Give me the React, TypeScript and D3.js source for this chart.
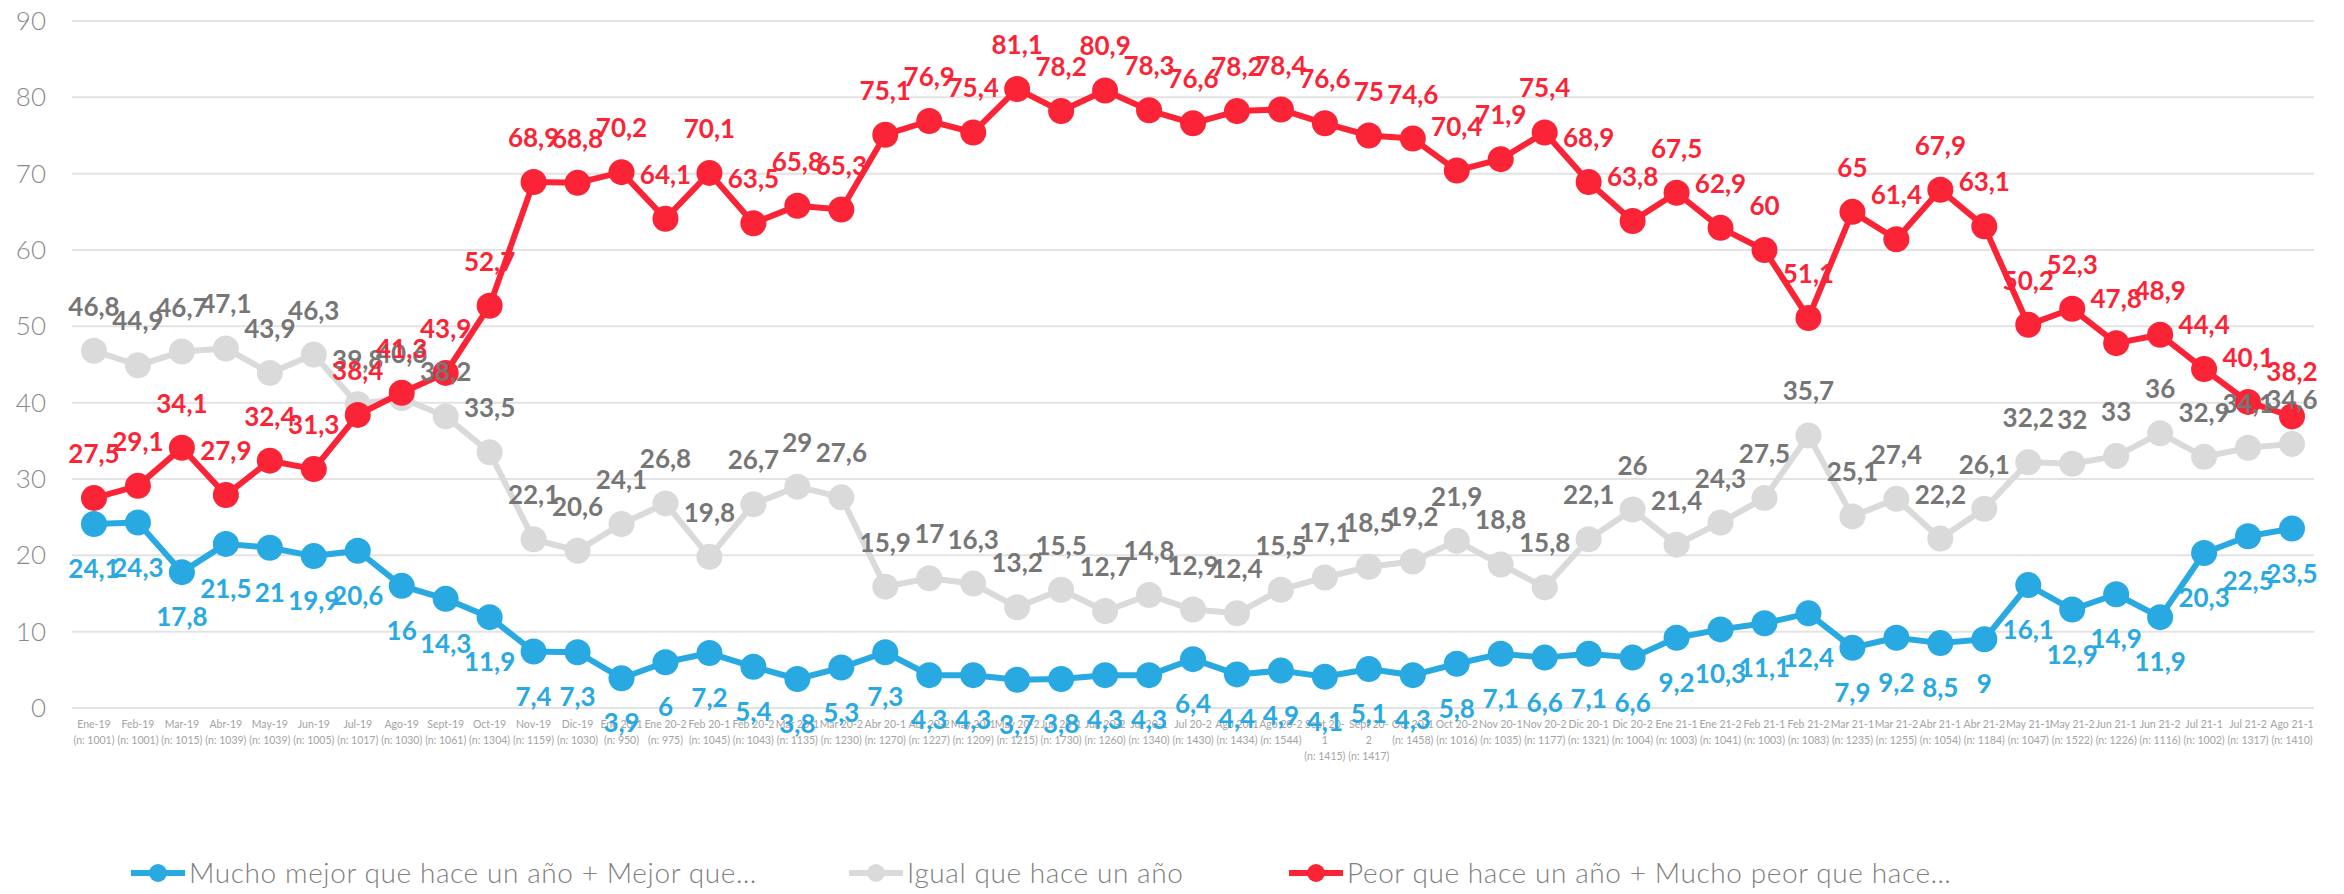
import React from 'react';
import * as d3 from 'd3';

// periods (x axis) and sample sizes shown under each one
const periods = [
  'Ene-19', 'Feb-19', 'Mar-19', 'Abr-19', 'May-19', 'Jun-19', 'Jul-19', 'Ago-19', 'Sept-19', 'Oct-19', 'Nov-19', 'Dic-19',
  'Ene 20-1', 'Ene 20-2', 'Feb 20-1', 'Feb 20-2', 'Mar 20-1', 'Mar 20-2', 'Abr 20-1', 'Abr 20-2', 'May 20-1', 'May 20-2',
  'Jun 20-1', 'Jun 20-2', 'Jul 20-1', 'Jul 20-2', 'Ago 20-1', 'Ago 20-2', 'Sept 20-1', 'Sept 20-2', 'Oct 20-1', 'Oct 20-2',
  'Nov 20-1', 'Nov 20-2', 'Dic 20-1', 'Dic 20-2', 'Ene 21-1', 'Ene 21-2', 'Feb 21-1', 'Feb 21-2', 'Mar 21-1', 'Mar 21-2',
  'Abr 21-1', 'Abr 21-2', 'May 21-1', 'May 21-2', 'Jun 21-1', 'Jun 21-2', 'Jul 21-1', 'Jul 21-2', 'Ago 21-1',
];
const sampleSizes = [
  1001, 1001, 1015, 1039, 1039, 1005, 1017, 1030, 1061, 1304, 1159, 1030,
  950, 975, 1045, 1043, 1135, 1230, 1270, 1227, 1209, 1215, 1730, 1260,
  1340, 1430, 1434, 1544, 1415, 1417, 1458, 1016, 1035, 1177, 1321, 1004,
  1003, 1041, 1003, 1083, 1235, 1255, 1054, 1184, 1047, 1522, 1226, 1116,
  1002, 1317, 1410,
];

const mejor = [
  24.1, 24.3, 17.8, 21.5, 21, 19.9, 20.6, 16, 14.3, 11.9, 7.4, 7.3, 3.9, 6, 7.2, 5.4, 3.8, 5.3, 7.3, 4.3, 4.3, 3.7, 3.8, 4.3, 4.3,
  6.4, 4.4, 4.9, 4.1, 5.1, 4.3, 5.8, 7.1, 6.6, 7.1, 6.6, 9.2, 10.3, 11.1, 12.4, 7.9, 9.2, 8.5, 9, 16.1, 12.9, 14.9, 11.9, 20.3, 22.5, 23.5,
];
const igual = [
  46.8, 44.9, 46.7, 47.1, 43.9, 46.3, 39.8, 40.6, 38.2, 33.5, 22.1, 20.6, 24.1, 26.8, 19.8, 26.7, 29, 27.6, 15.9, 17, 16.3, 13.2, 15.5, 12.7, 14.8,
  12.9, 12.4, 15.5, 17.1, 18.5, 19.2, 21.9, 18.8, 15.8, 22.1, 26, 21.4, 24.3, 27.5, 35.7, 25.1, 27.4, 22.2, 26.1, 32.2, 32, 33, 36, 32.9, 34.1, 34.6,
];
const peor = [
  27.5, 29.1, 34.1, 27.9, 32.4, 31.3, 38.4, 41.3, 43.9, 52.7, 68.9, 68.8, 70.2, 64.1, 70.1, 63.5, 65.8, 65.3, 75.1, 76.9, 75.4, 81.1, 78.2, 80.9, 78.3,
  76.6, 78.2, 78.4, 76.6, 75, 74.6, 70.4, 71.9, 75.4, 68.9, 63.8, 67.5, 62.9, 60, 51.1, 65, 61.4, 67.9, 63.1, 50.2, 52.3, 47.8, 48.9, 44.4, 40.1, 38.2,
];

const seriesNames = [
  'Mucho mejor que hace un año + Mejor que…',
  'Igual que hace un año',
  'Peor que hace un año + Mucho peor que hace…',
];
const yTicks = [0, 10, 20, 30, 40, 50, 60, 70, 80, 90];

const W = 2344;
const H = 894;
const FONT = 'Lato, "Open Sans", sans-serif';

const series = [
  { name: seriesNames[0], values: mejor, color: '#29a9e1', labelColor: '#29a9e1', labelBelow: true },
  { name: seriesNames[1], values: igual, color: '#dadada', labelColor: '#767676', labelBelow: false },
  { name: seriesNames[2], values: peor, color: '#fb2436', labelColor: '#fb2436', labelBelow: false },
];

const fmt = (v: number) => String(v).replace('.', ',');

export default function App() {
  const x = d3.scaleBand<string>().domain(periods).range([72, 2314]);
  const y = d3.scaleLinear().domain([0, 90]).range([708, 21]);
  const cx = (i: number) => (x(periods[i]) as number) + x.bandwidth() / 2;

  const line = d3.line<number>()
    .x((_, i) => cx(i))
    .y(d => y(d));

  const legendX = [131, 849, 1289];

  return (
    <div style={{ position: 'absolute', left: 0, top: 0, background: '#fff' }}>
      <svg width={W} height={H} style={{ display: 'block', fontFamily: FONT }}>
        {/* grid */}
        {yTicks.map(t => (
          <g key={t}>
            <line x1={x.range()[0]} x2={x.range()[1]} y1={y(t)} y2={y(t)} stroke="#e3e3e3" strokeWidth={2} />
            <text x={46} y={y(t)} dy="0.35em" textAnchor="end" fontSize={26} fontWeight={300} fill="#8a8a8a">{t}</text>
          </g>
        ))}

        {/* x labels */}
        {periods.map((p, i) => {
          const lines = p.length > 8 ? [p.slice(0, -1), p.slice(-1)] : [p];
          lines.push(`(n: ${sampleSizes[i]})`);
          return (
            <text key={p} x={cx(i)} y={728} textAnchor="middle" fontSize={10.5} fill="#a3a3a3">
              {lines.map((l, k) => (
                <tspan key={k} x={cx(i)} dy={k === 0 ? 0 : 16}>{l}</tspan>
              ))}
            </text>
          );
        })}

        {/* lines + markers */}
        {series.map(s => (
          <g key={s.name}>
            <path d={line(s.values) || ''} fill="none" stroke={s.color} strokeWidth={6} strokeLinejoin="round" />
            {s.values.map((v, i) => (
              <circle key={i} cx={cx(i)} cy={y(v)} r={13} fill={s.color} />
            ))}
          </g>
        ))}

        {/* data labels */}
        {series.map(s => (
          <g key={s.name + '-lab'}>
            {s.values.map((v, i) => (
              <text
                key={i}
                x={cx(i)}
                y={s.labelBelow ? y(v) + 54 : y(v) - 35}
                textAnchor="middle"
                fontSize={26}
                fontWeight={700}
                fill={s.labelColor}
              >
                {fmt(v)}
              </text>
            ))}
          </g>
        ))}

        {/* legend */}
        {series.map((s, k) => (
          <g key={s.name + '-leg'} transform={`translate(${legendX[k]},873)`}>
            <line x1={0} x2={54} y1={0} y2={0} stroke={s.color} strokeWidth={6} />
            <circle cx={27} cy={0} r={9} fill={s.color} />
            <text x={58} y={0} dy="0.35em" fontSize={28} fontWeight={300} letterSpacing={0.6} fill="#7f7f7f">{s.name}</text>
          </g>
        ))}
      </svg>
    </div>
  );
}
